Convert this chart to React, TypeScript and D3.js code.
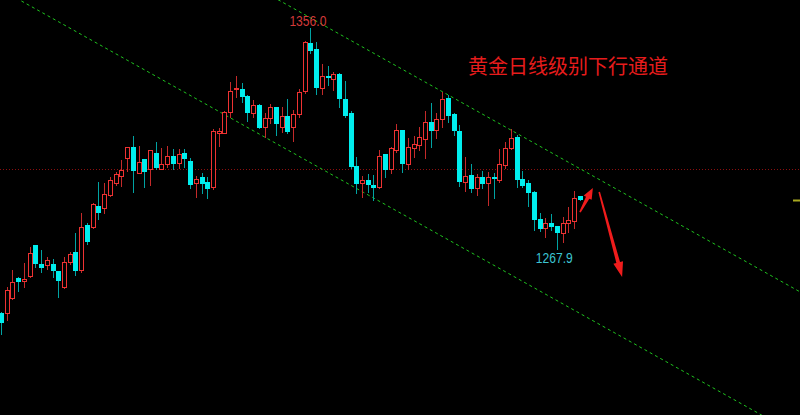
import React from 'react';
import * as d3 from 'd3';

// Daily gold candles (price)
const opens = [1242.0,1242.2,1248.0,1256.1,1255.0,1256.9,1269.3,1261.7,1261.2,1261.7,
1258.9,1252.6,1262.5,1266.6,1259.3,1277.3,1276.4,1284.9,1284.0,1289.3,
1294.2,1296.9,1304.2,1308.4,1298.2,1303.6,1299.8,1306.2,1299.8,1301.8,
1305.0,1302.2,1306.2,1302.8,1294.2,1296.4,1294.5,1292.6,1314.0,1314.2,
1322.6,1331.6,1331.7,1328.9,1322.0,1325.3,1316.6,1320.0,1324.4,1316.6,
1321.0,1316.4,1321.6,1330.9,1350.0,1347.7,1332.0,1336.9,1335.6,1337.6,
1327.7,1322.0,1300.9,1294.0,1295.3,1293.3,1292.6,1305.6,1299.7,1307.3,
1315.3,1301.6,1308.0,1309.2,1311.7,1318.4,1315.3,1319.6,1328.0,1321.6,
1315.0,1294.6,1297.3,1292.0,1296.6,1294.2,1296.4,1295.3,1301.3,1308.0,
1312.6,1295.6,1294.2,1290.6,1279.6,1276.0,1278.0,1276.9,1274.2,1278.0,
1279.1,1289.1];

const closes = [1238.0,1251.3,1254.6,1254.5,1255.6,1266.0,1261.7,1260.2,1263.3,1259.0,
1255.0,1262.4,1265.7,1259.0,1276.4,1270.6,1285.7,1282.0,1289.7,1295.3,
1297.6,1299.3,1308.4,1299.0,1302.6,1298.6,1307.3,1300.2,1301.6,1305.0,
1301.8,1305.8,1303.7,1293.4,1295.6,1293.7,1291.7,1314.9,1314.9,1322.6,
1331.0,1332.2,1328.4,1322.2,1325.2,1316.2,1320.0,1324.4,1317.7,1320.9,
1314.6,1321.7,1330.6,1350.4,1347.0,1332.0,1336.9,1336.0,1337.6,1327.7,
1320.9,1300.6,1293.7,1295.3,1293.3,1292.2,1305.0,1299.3,1308.0,1315.3,
1301.7,1308.4,1309.6,1312.4,1318.4,1314.9,1319.6,1327.6,1321.0,1314.9,
1294.6,1297.0,1291.7,1296.6,1293.7,1296.4,1295.7,1301.6,1308.2,1312.0,
1295.3,1292.9,1290.2,1279.3,1275.8,1278.0,1276.6,1274.0,1278.0,1279.3,
1288.3,1287.5];

const highs = [1242.5,1252.4,1259.3,1256.6,1262.0,1268.4,1269.3,1267.3,1264.6,1263.6,
1258.9,1264.6,1266.6,1274.2,1282.0,1278.0,1286.0,1294.4,1294.0,1296.4,
1298.4,1303.3,1308.4,1312.9,1308.9,1303.6,1307.3,1310.5,1308.2,1308.9,
1307.7,1307.7,1307.6,1304.0,1297.0,1298.2,1296.4,1315.6,1316.0,1323.0,
1334.6,1336.9,1334.2,1329.3,1327.3,1325.7,1322.0,1325.7,1324.4,1324.4,
1327.7,1323.3,1331.7,1350.9,1356.0,1350.6,1341.7,1340.9,1338.6,1338.0,
1334.9,1323.0,1304.4,1296.9,1297.7,1297.3,1307.3,1305.6,1308.4,1317.7,
1315.3,1312.0,1312.9,1316.5,1323.0,1326.0,1322.2,1330.6,1329.3,1322.0,
1317.3,1304.6,1301.7,1297.6,1298.9,1298.4,1298.0,1307.6,1310.6,1315.7,
1313.3,1299.0,1295.3,1291.0,1282.2,1280.0,1281.7,1276.9,1280.4,1284.6,
1291.0,1289.1];

const lows = [1233.7,1239.3,1247.6,1251.0,1252.6,1256.6,1260.6,1258.6,1259.6,1256.6,
1248.6,1252.0,1261.7,1257.3,1258.6,1269.7,1276.0,1279.6,1282.0,1288.9,
1293.3,1293.0,1299.0,1290.6,1298.0,1292.6,1293.3,1299.6,1299.6,1300.6,
1299.7,1300.2,1300.6,1292.2,1288.4,1290.2,1288.0,1291.6,1308.9,1314.0,
1320.6,1328.4,1326.6,1318.9,1320.6,1316.0,1312.6,1318.0,1313.3,1314.6,
1314.2,1311.0,1320.4,1330.0,1346.0,1329.7,1329.6,1333.3,1331.3,1324.6,
1320.4,1300.0,1290.0,1288.4,1290.6,1287.3,1292.0,1296.6,1298.2,1306.6,
1298.6,1299.6,1304.6,1307.3,1304.2,1308.6,1312.2,1316.6,1318.4,1313.3,
1293.0,1290.9,1290.6,1289.3,1292.0,1285.3,1288.0,1294.6,1300.2,1307.7,
1292.6,1292.6,1284.9,1275.3,1275.0,1272.6,1275.3,1267.9,1270.5,1274.6,
1276.0,1287.5];

const refPrice = 1299.6;
const upperChannel = [{ i: 49, p: 1366.6 }, { i: 101, p: 1299.9 }];
const lowerChannel = [{ i: 34, p: 1327.9 }, { i: 101, p: 1242.0 }];
const arrowAnnotations = [
  { from: { i: 101.05, p: 1282.5 }, to: { i: 103.3, p: 1292.1 }, head: 11, half: 4.5 },
  { from: { i: 104.4, p: 1290.5 }, to: { i: 108.4, p: 1256.5 }, head: 15, half: 5 },
];
const title = '黄金日线级别下行通道';

const W = 800;
const H = 415;

export default function App() {
  const x = d3.scaleLinear().domain([0, 101]).range([1, 579.7]);
  const y = d3.scaleLinear().domain([1267.9, 1356.0]).range([248.55, 28.3]);

  const idx = d3.range(opens.length);
  const hiIdx = d3.maxIndex(highs);
  // lowest low after the peak
  const loIdx = hiIdx + d3.minIndex(lows.slice(hiIdx));

  const lineFor = (pts: { i: number; p: number }[]) => {
    const slope = (pts[1].p - pts[0].p) / (pts[1].i - pts[0].i);
    const i0 = x.invert(-10);
    const i1 = x.invert(W + 10);
    const f = (i: number) => pts[0].p + slope * (i - pts[0].i);
    return d3.line<number>().x((i) => x(i)).y((i) => y(f(i)))([i0, i1]) || '';
  };

  const arrowPath = (a: typeof arrowAnnotations[number]) => {
    const x0 = x(a.from.i), y0 = y(a.from.p);
    const x1 = x(a.to.i), y1 = y(a.to.p);
    const dx = x1 - x0, dy = y1 - y0;
    const len = Math.hypot(dx, dy);
    const ux = dx / len, uy = dy / len;
    const nx = -uy, ny = ux;
    const bx = x1 - ux * a.head, by = y1 - uy * a.head;
    const tw = 0.8, sw = 1.9;
    const pts = [
      [x0 + nx * tw, y0 + ny * tw],
      [bx + nx * sw, by + ny * sw],
      [bx + nx * a.half, by + ny * a.half],
      [x1, y1],
      [bx - nx * a.half, by - ny * a.half],
      [bx - nx * sw, by - ny * sw],
      [x0 - nx * tw, y0 - ny * tw],
    ];
    return 'M' + pts.map((p) => p[0].toFixed(2) + ',' + p[1].toFixed(2)).join('L') + 'Z';
  };

  const lastClose = closes[closes.length - 1];

  return (
    <svg
      width={W}
      height={H}
      style={{ position: 'fixed', left: 0, top: 0, background: '#000', display: 'block' }}
    >
      <defs>
        <clipPath id="plot">
          <rect x={0} y={0} width={W} height={H} />
        </clipPath>
      </defs>
      <rect x={0} y={0} width={W} height={H} fill="#000" />
      <g clipPath="url(#plot)">
        <line
          x1={0}
          x2={W}
          y1={Math.round(y(refPrice)) + 0.5}
          y2={Math.round(y(refPrice)) + 0.5}
          stroke="#8a0f0f"
          strokeWidth={1}
          strokeDasharray="1 2"
        />
        <path d={lineFor(upperChannel)} stroke="#1fc21f" strokeWidth={1} strokeDasharray="3 3" fill="none" />
        <path d={lineFor(lowerChannel)} stroke="#1fc21f" strokeWidth={1} strokeDasharray="3 3" fill="none" />

        {idx.map((i) => {
          const cx = Math.round(x(i));
          const up = closes[i] >= opens[i];
          const yh = Math.round(y(highs[i]));
          const yl = Math.round(y(lows[i]));
          const yTop = Math.round(y(Math.max(opens[i], closes[i])));
          const yBot = Math.round(y(Math.min(opens[i], closes[i])));
          if (up) {
            const h = Math.max(yBot - yTop, 1);
            return (
              <g key={i}>
                <line x1={cx + 0.5} x2={cx + 0.5} y1={yh} y2={yl + 1} stroke="#c42a2a" strokeWidth={1} />
                <rect x={cx - 1.5} y={yTop + 0.5} width={4} height={h} fill="#000" stroke="#ee3232" strokeWidth={1} />
              </g>
            );
          }
          const h = Math.max(yBot - yTop, 2);
          return (
            <g key={i}>
              <line x1={cx + 0.5} x2={cx + 0.5} y1={yh} y2={yl + 1} stroke="#00a3a3" strokeWidth={1} />
              <rect x={cx - 2} y={yTop} width={5} height={h} fill="#00eeee" />
            </g>
          );
        })}

        <line
          x1={793}
          x2={W}
          y1={Math.round(y(lastClose)) + 0.5}
          y2={Math.round(y(lastClose)) + 0.5}
          stroke="#a8a820"
          strokeWidth={2}
        />

        {arrowAnnotations.map((a, k) => (
          <path key={k} d={arrowPath(a)} fill="#f01c1c" />
        ))}

        <text
          x={x(hiIdx) - 2.5}
          y={y(highs[hiIdx]) - 2.5}
          textAnchor="middle"
          fontFamily="Liberation Sans, Arial, sans-serif"
          fontSize={14.5}
          textLength={37}
          lengthAdjust="spacingAndGlyphs"
          fill="#d43a3a"
        >
          {highs[hiIdx].toFixed(1)}
        </text>
        <text
          x={x(loIdx) - 2.5}
          y={y(lows[loIdx]) + 14}
          textAnchor="middle"
          fontFamily="Liberation Sans, Arial, sans-serif"
          fontSize={14.5}
          textLength={37}
          lengthAdjust="spacingAndGlyphs"
          fill="#3cc4d2"
        >
          {lows[loIdx].toFixed(1)}
        </text>

        <text
          x={468}
          y={74}
          fontFamily="Noto Sans CJK SC, sans-serif"
          fontSize={20}
          fill="#e61c1c"
        >
          {title}
        </text>
      </g>
    </svg>
  );
}
